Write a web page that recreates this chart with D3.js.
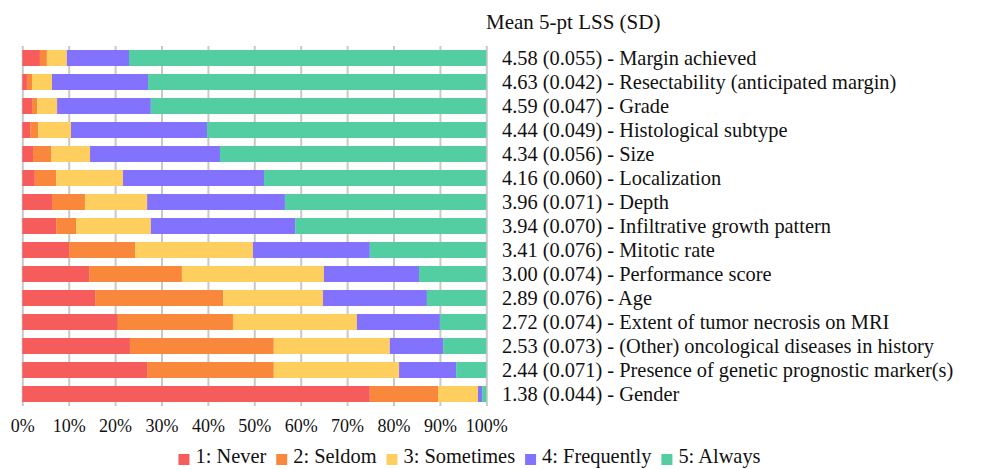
<!DOCTYPE html>
<html>
<head>
<meta charset="utf-8">
<script src="https://cdn.jsdelivr.net/npm/d3@7"></script>
<style>
  body { margin: 0; background: #fff; }
  svg text { font-family: "Liberation Serif", "Times New Roman", Times, "DejaVu Serif", serif; fill: #111; }
</style>
</head>
<body>
<svg id="chart" width="986" height="469"></svg>
<script>
// categories, top to bottom
var factors = ["Margin achieved", "Resectability (anticipated margin)", "Grade",
  "Histological subtype", "Size", "Localization", "Depth",
  "Infiltrative growth pattern", "Mitotic rate", "Performance score", "Age",
  "Extent of tumor necrosis on MRI", "(Other) oncological diseases in history",
  "Presence of genetic prognostic marker(s)", "Gender"];

var means = ["4.58", "4.63", "4.59", "4.44", "4.34", "4.16", "3.96", "3.94",
  "3.41", "3.00", "2.89", "2.72", "2.53", "2.44", "1.38"];
var sds = ["0.055", "0.042", "0.047", "0.049", "0.056", "0.060", "0.071", "0.070",
  "0.076", "0.074", "0.076", "0.074", "0.073", "0.071", "0.044"];

// percent answering each level, per factor
var never      = [3.8, 1.0, 2.1, 1.7, 2.3, 2.7, 6.4, 7.3, 10.1, 14.4, 15.7, 20.6, 23.2, 26.9, 74.9];
var seldom     = [1.5, 1.1, 1.1, 1.7, 3.9, 4.6, 7.1, 4.3, 14.2, 20.0, 27.6, 24.8, 31.0, 27.3, 14.7];
var sometimes  = [4.3, 4.3, 4.3, 7.1, 8.4, 14.4, 13.4, 16.1, 25.4, 30.6, 21.5, 26.7, 25.0, 27.0, 8.6];
var frequently = [13.4, 20.7, 20.2, 29.3, 28.0, 30.4, 29.7, 31.1, 25.2, 20.5, 22.4, 17.9, 11.5, 12.3, 0.9];
var always     = [77.0, 72.9, 72.3, 60.2, 57.4, 47.9, 43.4, 41.2, 25.1, 14.5, 12.8, 10.0, 9.3, 6.5, 0.9];

var levels = ["1: Never", "2: Seldom", "3: Sometimes", "4: Frequently", "5: Always"];
var colors = ["#F65C5C", "#F9883C", "#FECF5E", "#8372FD", "#53CDA2"];
var xTicks = [0, 10, 20, 30, 40, 50, 60, 70, 80, 90, 100];

var serif = "'Liberation Serif', 'Times New Roman', Times, 'DejaVu Serif', serif";
var svg = d3.select("#chart");

var rows = factors.map(function(f, i) {
  return { factor: f, v: [never[i], seldom[i], sometimes[i], frequently[i], always[i]] };
});

var x = d3.scaleLinear().domain([0, 100]).range([22.3, 486.3]);
var y = d3.scaleBand().domain(factors).range([46, 406]).paddingInner(1/3).paddingOuter(1/6);

// gridlines + tick labels
var xAxis = svg.append("g")
  .attr("transform", "translate(0,406)")
  .call(d3.axisBottom(x).tickValues(xTicks).tickSize(-360).tickPadding(13)
    .tickFormat(function(d) { return d + "%"; }));
xAxis.attr("font-family", null).attr("font-size", null);
xAxis.select(".domain").remove();
xAxis.selectAll("line").attr("stroke", "#c8c8c8").attr("stroke-width", 2);
xAxis.selectAll("text").style("font-size", "18px").style("font-family", serif).attr("fill", "#111");

// stacked bars
var stack = d3.stack().keys([0, 1, 2, 3, 4]).value(function(d, k) { return d.v[k]; });
var series = stack(rows);

svg.append("g").selectAll("g")
  .data(series)
  .join("g")
  .attr("fill", function(s, i) { return colors[i]; })
  .selectAll("rect")
  .data(function(s) { return s; })
  .join("rect")
  .attr("x", function(d) { return x(d[0]); })
  .attr("width", function(d) { return Math.max(0, x(d[1]) - x(d[0])); })
  .attr("y", function(d) { return y(d.data.factor); })
  .attr("height", y.bandwidth());

// right-hand labels
svg.append("g").selectAll("text")
  .data(factors)
  .join("text")
  .attr("x", 502)
  .attr("y", function(d) { return y(d) + y.bandwidth() / 2; })
  .attr("dy", "0.36em")
  .style("font-size", "20.4px").style("font-family", serif)
  .text(function(d, i) { return means[i] + " (" + sds[i] + ") - " + d; });

svg.append("text")
  .attr("x", 486).attr("y", 29)
  .style("font-size", "21px").style("font-family", serif)
  .text("Mean 5-pt LSS (SD)");

// legend, centered under the chart
var legend = svg.append("g");
var lx = 0;
levels.forEach(function(l, i) {
  var g = legend.append("g").attr("transform", "translate(" + lx + ",0)");
  g.append("rect").attr("x", 0).attr("y", -9).attr("width", 11).attr("height", 11).attr("fill", colors[i]);
  var t = g.append("text").attr("x", 17).attr("y", 0)
    .style("font-size", "20.4px").style("font-family", serif).text(l);
  lx += 17 + t.node().getComputedTextLength() + 10;
});
var legendW = lx - 10;
legend.attr("transform", "translate(" + (469.5 - legendW / 2) + ",463)");
</script>
</body>
</html>
